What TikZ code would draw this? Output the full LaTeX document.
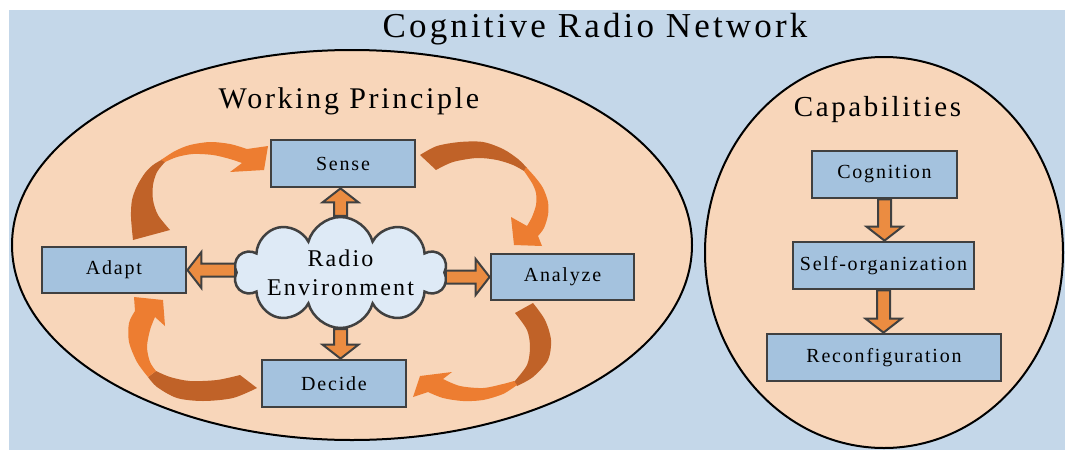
\documentclass[tikz,border=0pt]{standalone}
\usepackage{fontspec}
\setmainfont{Liberation Serif}[LetterSpace=9]
\usetikzlibrary{shapes.symbols,shapes.geometric,calc}
\definecolor{bgblue}{RGB}{196,215,233}
\definecolor{peach}{RGB}{248,214,186}
\definecolor{boxfill}{RGB}{164,194,222}
\definecolor{boxline}{RGB}{64,64,64}
\definecolor{cloudfill}{RGB}{222,234,246}
\definecolor{barrowfill}{RGB}{235,140,65}
\definecolor{arrdark}{RGB}{192,98,40}
\definecolor{arrlight}{RGB}{237,125,49}
\tikzset{
  box/.style={draw=boxline, fill=boxfill, line width=2.8pt, minimum height=47pt,
    inner sep=0pt, font=\fontsize{20}{24}\selectfont},
  barrow/.style={draw=boxline, fill=barrowfill, line width=2pt, line join=miter},
  darkpart/.style={fill=arrdark},
  lightpart/.style={fill=arrlight},
  bigell/.style={ellipse, draw=black, line width=2pt, fill=peach, inner sep=0pt},
  heading/.style={anchor=base, inner sep=0pt}
}
\newcommand\blockarrow[2]{%
  \coordinate (ba-s) at (#1);
  \coordinate (ba-e) at (#2);
  \coordinate (ba-h) at ($(ba-e)!14pt!(ba-s)$);
  \draw[barrow] ($(ba-s)!6.5pt!90:(ba-e)$) -- ($(ba-h)!6.5pt!90:(ba-e)$)
    -- ($(ba-h)!18pt!90:(ba-e)$) -- (ba-e) -- ($(ba-h)!18pt!-90:(ba-e)$)
    -- ($(ba-h)!6.5pt!-90:(ba-e)$) -- ($(ba-s)!6.5pt!-90:(ba-e)$) -- cycle;}
\begin{document}
\begin{tikzpicture}[x=1pt,y=-1pt]
\useasboundingbox (0,0) rectangle (1065,450);
\fill[white] (0,0) rectangle (1065,450);
\fill[bgblue] (9,10) rectangle (1065,450);
\node[heading, font=\fontsize{35}{40}\selectfont] (title) at (595,37) {Cognitive Radio Network};
% containers
\node[bigell, minimum width=680pt, minimum height=390pt] (wp) at (352,245) {};
\node[bigell, minimum width=358pt, minimum height=391pt] (cap) at (884,252.5) {};
\node[heading, font=\fontsize{30}{34}\selectfont] (wptitle) at (349,108) {Working Principle};
\node[heading, font=\fontsize{29}{34}\selectfont] (captitle) at (877.5,116) {Capabilities};
% curved arrows: Adapt -> Sense
\fill[darkpart] plot[smooth] coordinates {(133,240) (131,217) (132,200) (137,186) (145,173) (153,165) (163,159)}
  -- plot[smooth] coordinates {(165,162) (157,172) (153,185) (153,200) (158,215) (170,230)} -- cycle;
\fill[lightpart] plot[smooth] coordinates {(161,160) (175,151) (190,145) (210,142) (230,144) (247,149)}
  -- (268,146) -- (264,170) -- (230,172)
  -- plot[smooth] coordinates {(242,163) (230,159) (213,155) (193,154) (177,157) (165,162)} -- cycle;
% Sense -> Analyze
\fill[darkpart] plot[smooth] coordinates {(420,155) (437,146) (460,142) (483,142) (503,149) (518,159) (527,168)}
  -- plot[smooth] coordinates {(524,171) (513,165) (497,160) (477,158) (453,162) (436,170)} -- cycle;
\fill[lightpart] plot[smooth] coordinates {(526,167) (535,177) (543,188) (548,202) (548,215) (544,228) (538,236)}
  -- (542,246) -- (514,245) -- (511,217)
  -- plot[smooth] coordinates {(527,226) (532,217) (536,205) (536,193) (532,183) (524,171)} -- cycle;
% Analyze -> Decide
\fill[darkpart] plot[smooth] coordinates {(533,303) (545,320) (551,340) (548,360) (533,377) (517,386)}
  -- plot[smooth] coordinates {(514,382) (527,365) (530,347) (527,330) (515,313)} -- cycle;
\fill[lightpart] plot[smooth] coordinates {(517,385) (503,394) (483,400) (463,401) (443,398) (428,392)}
  -- (413,397) -- (420,376) -- (452,372)
  -- plot[smooth] coordinates {(443,379) (460,386) (483,388) (503,384) (514,381)} -- cycle;
% Decide -> Adapt
\fill[darkpart] plot[smooth] coordinates {(257,388) (233,398) (203,401) (177,398) (157,387) (148,377)}
  -- plot[smooth] coordinates {(156,371) (170,377) (190,381) (217,380) (240,375)} -- cycle;
\fill[lightpart] plot[smooth] coordinates {(148,377) (137,362) (129,342) (129,323) (135,311)}
  -- (134,297) -- (163,300) -- (165,326)
  -- plot[smooth] coordinates {(155,317) (150,330) (147,347) (150,362) (156,371)} -- cycle;
% boxes
\node[box, minimum width=144pt] (sense) at (343,163.5) {Sense};
\node[box, minimum width=144pt, minimum height=46pt] (adapt) at (114,270) {Adapt};
\node[box, minimum width=143pt, minimum height=46pt] (analyze) at (562.5,277) {Analyze};
\node[box, minimum width=144pt] (decide) at (334,383.5) {Decide};
\node[cloud, cloud puffs=10, cloud ignores aspect, minimum width=205pt, minimum height=99pt,
  draw=boxline, fill=cloudfill, line width=2.5pt, align=center, inner sep=0pt,
  font=\fontsize{24}{29}\selectfont] (cloud) at (340.5,272.5) {Radio\\Environment};
\blockarrow{cloud.north}{cloud.north |- sense.south}
\blockarrow{cloud.west |- adapt.east}{adapt.east}
\blockarrow{cloud.east |- analyze.west}{analyze.west}
\blockarrow{cloud.south}{cloud.south |- decide.north}
% capabilities
\node[box, minimum width=145pt] (cog) at (884.5,174.5) {Cognition};
\node[box, minimum width=181pt] (selforg) at (883.5,265.5) {Self-organization};
\node[box, minimum width=234pt] (reconf) at (884,357.5) {Reconfiguration};
\blockarrow{cog.south}{cog.south |- selforg.north}
\blockarrow{selforg.south}{selforg.south |- reconf.north}
\end{tikzpicture}
\end{document}
